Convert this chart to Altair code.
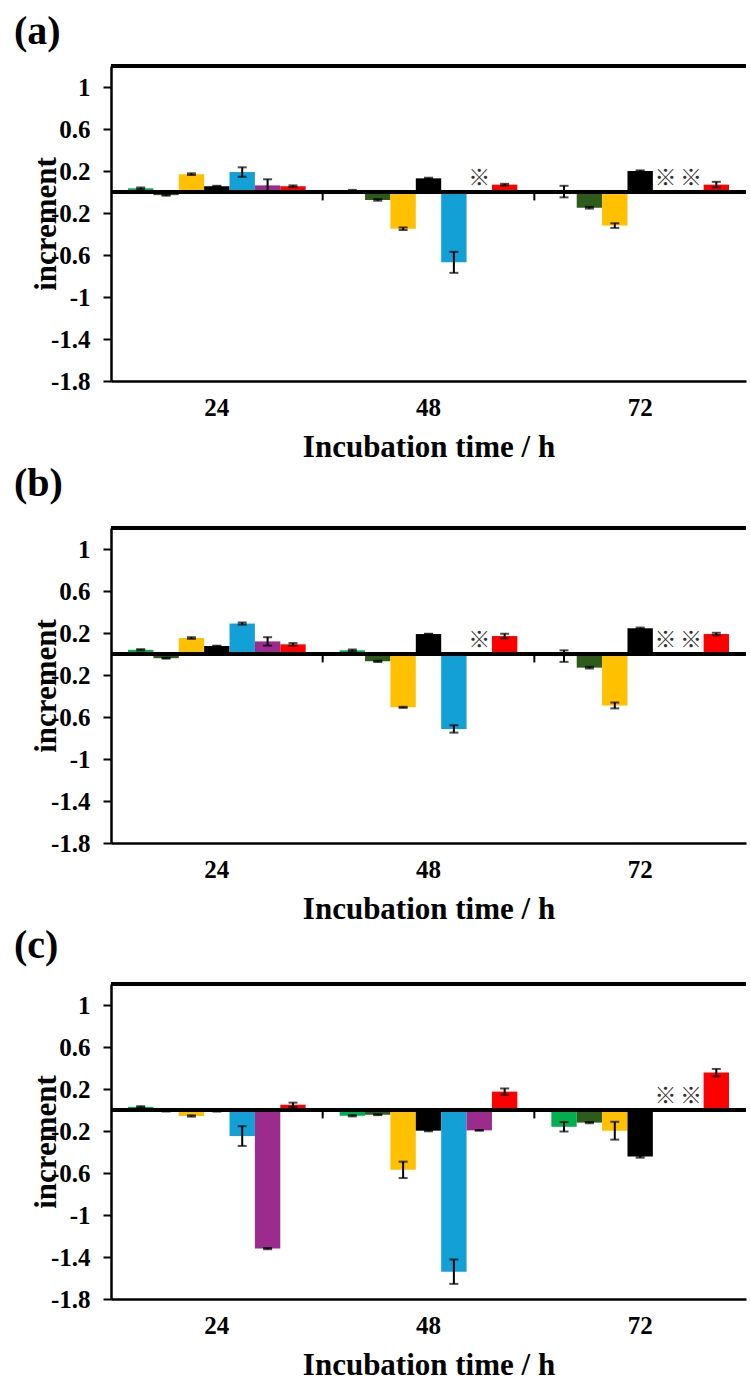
import altair as alt
import pandas as pd

TIMES = ["24", "48", "72"]
SERIES = ["S1", "S2", "S3", "S4", "S5", "S6", "S7"]
COLORS = ["#00B050", "#2E5A1B", "#FFC000", "#000000", "#12A0D7", "#9C2B8E", "#FF0000"]

# values per series at 24 / 48 / 72 h (None = not measured, shown as ※)
A_VALUES = {
    "S1": [0.035, 0.012, 0.004],
    "S2": [-0.03, -0.075, -0.15],
    "S3": [0.17, -0.35, -0.32],
    "S4": [0.055, 0.13, 0.20],
    "S5": [0.19, -0.67, None],
    "S6": [0.063, None, None],
    "S7": [0.055, 0.07, 0.07],
}
A_ERRORS = {
    "S1": [0.008, 0.008, 0.055],
    "S2": [0.005, 0.008, 0.008],
    "S3": [0.008, 0.012, 0.022],
    "S4": [0.004, 0.006, 0.006],
    "S5": [0.045, 0.10, None],
    "S6": [0.058, None, None],
    "S7": [0.008, 0.008, 0.027],
}
B_VALUES = {
    "S1": [0.04, 0.035, -0.02],
    "S2": [-0.04, -0.07, -0.13],
    "S3": [0.152, -0.508, -0.49],
    "S4": [0.076, 0.19, 0.245],
    "S5": [0.29, -0.714, None],
    "S6": [0.12, None, None],
    "S7": [0.092, 0.171, 0.19],
}
B_ERRORS = {
    "S1": [0.006, 0.008, 0.055],
    "S2": [0.004, 0.006, 0.008],
    "S3": [0.008, 0.005, 0.028],
    "S4": [0.003, 0.003, 0.007],
    "S5": [0.01, 0.035, None],
    "S6": [0.04, None, None],
    "S7": [0.012, 0.022, 0.012],
}
C_VALUES = {
    "S1": [0.03, -0.055, -0.16],
    "S2": [-0.01, -0.045, -0.12],
    "S3": [-0.057, -0.57, -0.197],
    "S4": [-0.012, -0.197, -0.444],
    "S5": [-0.248, -1.54, None],
    "S6": [-1.32, -0.194, None],
    "S7": [0.05, 0.175, 0.356],
}
C_ERRORS = {
    "S1": [0.006, 0.006, 0.045],
    "S2": [0.004, 0.004, 0.006],
    "S3": [0.006, 0.078, 0.085],
    "S4": [0.003, 0.006, 0.01],
    "S5": [0.094, 0.116, None],
    "S6": [0.006, 0.003, None],
    "S7": [0.02, 0.03, 0.035],
}

PANEL_LABELS = ["(a)", "(b)", "(c)"]
PANEL_DATA = [(A_VALUES, A_ERRORS), (B_VALUES, B_ERRORS), (C_VALUES, C_ERRORS)]
TITLE_OFFSET = [13, 23, 17]
LABEL_DX = 97          # distance from panel label to plot
PLOT_W = 635
YTITLE_X = -65
PAD_LEFT = 14

Y_DOMAIN = [-1.8, 1.2]
Y_TICKS = [-1.8, -1.4, -1, -0.6, -0.2, 0.2, 0.6, 1]
STAR_Y = 0.13
DIVIDER_LEN = 0.08

FONT = "Liberation Serif"
PLOT_H = 315


def panel(label, values, errors, toff):
    rows, stars = [], []
    for s in SERIES:
        for i, t in enumerate(TIMES):
            v = values[s][i]
            if v is None:
                stars.append({"time": t, "series": s, "ty": STAR_Y, "t": "※"})
            else:
                e = errors[s][i]
                rows.append({"time": t, "series": s, "value": v, "lo": v - e, "hi": v + e})
    df = pd.DataFrame(rows)
    sdf = pd.DataFrame(stars)

    xscale = alt.Scale(domain=TIMES, paddingInner=0, paddingOuter=0)
    xo = alt.XOffset("series:N", scale=alt.Scale(domain=SERIES, paddingOuter=0.67, paddingInner=0))
    yscale = alt.Scale(domain=Y_DOMAIN, nice=False, zero=False)

    x_main = alt.X("time:N", scale=xscale, title="Incubation time / h",
                   axis=alt.Axis(labelAngle=0, ticks=False, domainColor="black", domainWidth=2.5,
                                 labelPadding=14, titlePadding=12))
    y_main = alt.Y("value:Q", scale=yscale, title="increment",
                   axis=alt.Axis(values=Y_TICKS, domainColor="black", domainWidth=2.5,
                                 tickColor="black", tickWidth=2, tickSize=8, labelPadding=13,
                                 labelExpr="datum.value < 0 ? '-' + format(-datum.value, '~g') : format(datum.value, '~g')",
                                 titleX=YTITLE_X, titleY=PLOT_H / 2, titleBaseline="middle", titleAlign="center"))

    bars = alt.Chart(df).mark_bar().encode(
        x=x_main, xOffset=xo, y=y_main,
        color=alt.Color("series:N", scale=alt.Scale(domain=SERIES, range=COLORS), legend=None),
    )
    err = alt.Chart(df).mark_rule(color="black", strokeWidth=2).encode(
        x=alt.X("time:N"), xOffset=xo, y=alt.Y("lo:Q"), y2="hi:Q")
    cap_lo = alt.Chart(df).mark_tick(color="black", size=9, thickness=2, orient="horizontal").encode(
        x=alt.X("time:N"), xOffset=xo, y=alt.Y("lo:Q"))
    cap_hi = alt.Chart(df).mark_tick(color="black", size=9, thickness=2, orient="horizontal").encode(
        x=alt.X("time:N"), xOffset=xo, y=alt.Y("hi:Q"))
    star = alt.Chart(sdf).mark_text(font="Noto Sans CJK JP", fontSize=22, color="#333333").encode(
        x=alt.X("time:N"), xOffset=xo, y=alt.Y("ty:Q"), text="t:N")
    zero = alt.Chart(df).mark_rule(color="black", strokeWidth=2.5).encode(y=alt.datum(0))
    top = alt.Chart(df).mark_rule(color="black", strokeWidth=2.5).encode(y=alt.datum(Y_DOMAIN[1]))
    div_df = pd.DataFrame({"time": TIMES[1:]})
    divider = alt.Chart(div_df).mark_rule(color="black", strokeWidth=2).encode(
        x=alt.X("time:N", bandPosition=0), y=alt.datum(0), y2=alt.datum(-DIVIDER_LEN))

    return alt.layer(bars, err, cap_lo, cap_hi, star, zero, top, divider).properties(
        width=PLOT_W, height=PLOT_H,
        title=alt.TitleParams(label, anchor="start", frame="group", dx=-LABEL_DX, offset=toff,
                              fontSize=40, font=FONT, fontWeight="bold", color="black"),
    )


panels = [panel(PANEL_LABELS[i], *PANEL_DATA[i], TITLE_OFFSET[i]) for i in range(3)]

chart = alt.ConcatChart(concat=panels, columns=1, spacing=1).configure(
    padding={"left": PAD_LEFT, "top": 11, "right": 0, "bottom": 0},
    background="white",
).configure_view(stroke=None).configure_axis(
    grid=False, labelFont=FONT, labelFontWeight="bold", labelFontSize=25, labelColor="black",
    titleFont=FONT, titleFontWeight="bold", titleFontSize=31, titleColor="black",
)

chart.save("out.html", embed_options={"renderer": "svg", "actions": False})
